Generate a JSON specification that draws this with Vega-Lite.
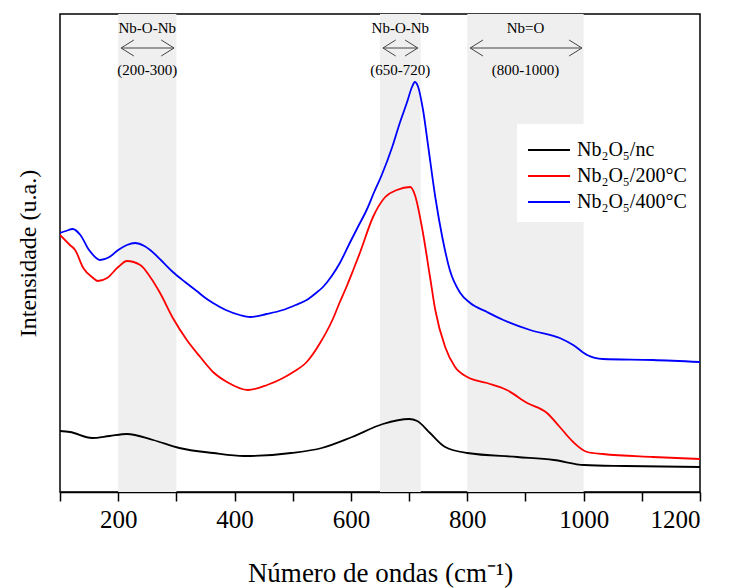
{
  "$schema": "https://vega.github.io/schema/vega-lite/v6.json",
  "width": 640,
  "height": 478,
  "autosize": {"type": "none"},
  "padding": {"left": 60, "top": 14, "right": 29, "bottom": 96},
  "background": "white",
  "config": {
    "font": "Liberation Serif, serif",
    "view": {"stroke": "black", "strokeWidth": 1.5},
    "axis": {"grid": false, "labelFont": "Liberation Serif, serif", "titleFont": "Liberation Serif, serif"},
    "legend": {"labelFont": "Liberation Serif, serif", "titleFont": "Liberation Serif, serif"},
    "text": {"font": "Liberation Serif, serif"}
  },
  "datasets": {
    "bands": [
      {"x0": 200, "x1": 300},
      {"x0": 650, "x1": 720},
      {"x0": 800, "x1": 1000}
    ],
    "notes": [
      {"band": "Nb-O-Nb", "range": "(200-300)", "xc": 250, "a0": 205, "a1": 296},
      {"band": "Nb-O-Nb", "range": "(650-720)", "xc": 685, "a0": 655, "a1": 715},
      {"band": "Nb=O", "range": "(800-1000)", "xc": 900, "a0": 805, "a1": 997}
    ],
    "spectra": [
      {"s": "Nb₂O₅/nc", "x": 100, "y": 61}, {"s": "Nb₂O₅/nc", "x": 117, "y": 60}, {"s": "Nb₂O₅/nc", "x": 155, "y": 54},
      {"s": "Nb₂O₅/nc", "x": 185, "y": 56}, {"s": "Nb₂O₅/nc", "x": 215, "y": 58}, {"s": "Nb₂O₅/nc", "x": 260, "y": 52},
      {"s": "Nb₂O₅/nc", "x": 305, "y": 44}, {"s": "Nb₂O₅/nc", "x": 363, "y": 39}, {"s": "Nb₂O₅/nc", "x": 416, "y": 36},
      {"s": "Nb₂O₅/nc", "x": 497, "y": 39}, {"s": "Nb₂O₅/nc", "x": 550, "y": 44}, {"s": "Nb₂O₅/nc", "x": 602, "y": 55},
      {"s": "Nb₂O₅/nc", "x": 655, "y": 68}, {"s": "Nb₂O₅/nc", "x": 700, "y": 73}, {"s": "Nb₂O₅/nc", "x": 714, "y": 71},
      {"s": "Nb₂O₅/nc", "x": 736, "y": 59}, {"s": "Nb₂O₅/nc", "x": 762, "y": 45}, {"s": "Nb₂O₅/nc", "x": 800, "y": 39},
      {"s": "Nb₂O₅/nc", "x": 886, "y": 35}, {"s": "Nb₂O₅/nc", "x": 949, "y": 32}, {"s": "Nb₂O₅/nc", "x": 1001, "y": 27},
      {"s": "Nb₂O₅/nc", "x": 1071, "y": 26}, {"s": "Nb₂O₅/nc", "x": 1200, "y": 25},

      {"s": "Nb₂O₅/200°C", "x": 100, "y": 257}, {"s": "Nb₂O₅/200°C", "x": 117, "y": 247}, {"s": "Nb₂O₅/200°C", "x": 126, "y": 242},
      {"s": "Nb₂O₅/200°C", "x": 140, "y": 224}, {"s": "Nb₂O₅/200°C", "x": 157, "y": 214}, {"s": "Nb₂O₅/200°C", "x": 165, "y": 211},
      {"s": "Nb₂O₅/200°C", "x": 181, "y": 214}, {"s": "Nb₂O₅/200°C", "x": 200, "y": 225}, {"s": "Nb₂O₅/200°C", "x": 215, "y": 231},
      {"s": "Nb₂O₅/200°C", "x": 238, "y": 227}, {"s": "Nb₂O₅/200°C", "x": 255, "y": 215}, {"s": "Nb₂O₅/200°C", "x": 272, "y": 199},
      {"s": "Nb₂O₅/200°C", "x": 294, "y": 174}, {"s": "Nb₂O₅/200°C", "x": 318, "y": 152}, {"s": "Nb₂O₅/200°C", "x": 341, "y": 135},
      {"s": "Nb₂O₅/200°C", "x": 363, "y": 120}, {"s": "Nb₂O₅/200°C", "x": 387, "y": 110}, {"s": "Nb₂O₅/200°C", "x": 423, "y": 102},
      {"s": "Nb₂O₅/200°C", "x": 456, "y": 107}, {"s": "Nb₂O₅/200°C", "x": 480, "y": 113}, {"s": "Nb₂O₅/200°C", "x": 501, "y": 120},
      {"s": "Nb₂O₅/200°C", "x": 524, "y": 130}, {"s": "Nb₂O₅/200°C", "x": 547, "y": 149}, {"s": "Nb₂O₅/200°C", "x": 569, "y": 173},
      {"s": "Nb₂O₅/200°C", "x": 581, "y": 190}, {"s": "Nb₂O₅/200°C", "x": 593, "y": 206}, {"s": "Nb₂O₅/200°C", "x": 604, "y": 222},
      {"s": "Nb₂O₅/200°C", "x": 616, "y": 240}, {"s": "Nb₂O₅/200°C", "x": 638, "y": 275}, {"s": "Nb₂O₅/200°C", "x": 659, "y": 295},
      {"s": "Nb₂O₅/200°C", "x": 679, "y": 302}, {"s": "Nb₂O₅/200°C", "x": 702, "y": 305}, {"s": "Nb₂O₅/200°C", "x": 710, "y": 297},
      {"s": "Nb₂O₅/200°C", "x": 722, "y": 265}, {"s": "Nb₂O₅/200°C", "x": 736, "y": 215}, {"s": "Nb₂O₅/200°C", "x": 745, "y": 182},
      {"s": "Nb₂O₅/200°C", "x": 762, "y": 145}, {"s": "Nb₂O₅/200°C", "x": 779, "y": 125}, {"s": "Nb₂O₅/200°C", "x": 800, "y": 115},
      {"s": "Nb₂O₅/200°C", "x": 834, "y": 109}, {"s": "Nb₂O₅/200°C", "x": 868, "y": 102}, {"s": "Nb₂O₅/200°C", "x": 903, "y": 89},
      {"s": "Nb₂O₅/200°C", "x": 937, "y": 79}, {"s": "Nb₂O₅/200°C", "x": 959, "y": 65}, {"s": "Nb₂O₅/200°C", "x": 982, "y": 50},
      {"s": "Nb₂O₅/200°C", "x": 1006, "y": 40}, {"s": "Nb₂O₅/200°C", "x": 1033, "y": 38}, {"s": "Nb₂O₅/200°C", "x": 1119, "y": 35},
      {"s": "Nb₂O₅/200°C", "x": 1200, "y": 33},

      {"s": "Nb₂O₅/400°C", "x": 100, "y": 259}, {"s": "Nb₂O₅/400°C", "x": 110, "y": 261}, {"s": "Nb₂O₅/400°C", "x": 122, "y": 263},
      {"s": "Nb₂O₅/400°C", "x": 135, "y": 257}, {"s": "Nb₂O₅/400°C", "x": 150, "y": 242}, {"s": "Nb₂O₅/400°C", "x": 169, "y": 232},
      {"s": "Nb₂O₅/400°C", "x": 185, "y": 235}, {"s": "Nb₂O₅/400°C", "x": 200, "y": 242}, {"s": "Nb₂O₅/400°C", "x": 215, "y": 247},
      {"s": "Nb₂O₅/400°C", "x": 229, "y": 249}, {"s": "Nb₂O₅/400°C", "x": 245, "y": 246}, {"s": "Nb₂O₅/400°C", "x": 255, "y": 242},
      {"s": "Nb₂O₅/400°C", "x": 275, "y": 231}, {"s": "Nb₂O₅/400°C", "x": 294, "y": 220}, {"s": "Nb₂O₅/400°C", "x": 315, "y": 210},
      {"s": "Nb₂O₅/400°C", "x": 335, "y": 201}, {"s": "Nb₂O₅/400°C", "x": 350, "y": 194}, {"s": "Nb₂O₅/400°C", "x": 363, "y": 189},
      {"s": "Nb₂O₅/400°C", "x": 385, "y": 182}, {"s": "Nb₂O₅/400°C", "x": 409, "y": 177}, {"s": "Nb₂O₅/400°C", "x": 427, "y": 175},
      {"s": "Nb₂O₅/400°C", "x": 455, "y": 178}, {"s": "Nb₂O₅/400°C", "x": 483, "y": 182}, {"s": "Nb₂O₅/400°C", "x": 505, "y": 187},
      {"s": "Nb₂O₅/400°C", "x": 524, "y": 192}, {"s": "Nb₂O₅/400°C", "x": 540, "y": 199}, {"s": "Nb₂O₅/400°C", "x": 552, "y": 205},
      {"s": "Nb₂O₅/400°C", "x": 567, "y": 216}, {"s": "Nb₂O₅/400°C", "x": 581, "y": 229}, {"s": "Nb₂O₅/400°C", "x": 598, "y": 249},
      {"s": "Nb₂O₅/400°C", "x": 612, "y": 265}, {"s": "Nb₂O₅/400°C", "x": 627, "y": 282}, {"s": "Nb₂O₅/400°C", "x": 640, "y": 300},
      {"s": "Nb₂O₅/400°C", "x": 653, "y": 317}, {"s": "Nb₂O₅/400°C", "x": 671, "y": 345}, {"s": "Nb₂O₅/400°C", "x": 684, "y": 369},
      {"s": "Nb₂O₅/400°C", "x": 696, "y": 389}, {"s": "Nb₂O₅/400°C", "x": 705, "y": 405}, {"s": "Nb₂O₅/400°C", "x": 710, "y": 410},
      {"s": "Nb₂O₅/400°C", "x": 715, "y": 406}, {"s": "Nb₂O₅/400°C", "x": 724, "y": 382}, {"s": "Nb₂O₅/400°C", "x": 733, "y": 345},
      {"s": "Nb₂O₅/400°C", "x": 745, "y": 295}, {"s": "Nb₂O₅/400°C", "x": 757, "y": 255}, {"s": "Nb₂O₅/400°C", "x": 770, "y": 222},
      {"s": "Nb₂O₅/400°C", "x": 788, "y": 199}, {"s": "Nb₂O₅/400°C", "x": 805, "y": 189}, {"s": "Nb₂O₅/400°C", "x": 834, "y": 180},
      {"s": "Nb₂O₅/400°C", "x": 862, "y": 172}, {"s": "Nb₂O₅/400°C", "x": 908, "y": 162}, {"s": "Nb₂O₅/400°C", "x": 959, "y": 154},
      {"s": "Nb₂O₅/400°C", "x": 982, "y": 147}, {"s": "Nb₂O₅/400°C", "x": 1006, "y": 137}, {"s": "Nb₂O₅/400°C", "x": 1033, "y": 133},
      {"s": "Nb₂O₅/400°C", "x": 1119, "y": 132}, {"s": "Nb₂O₅/400°C", "x": 1200, "y": 130}
    ]
  },
  "layer": [
    {
      "data": {"name": "bands"},
      "mark": {"type": "rect", "color": "#efefef"},
      "encoding": {
        "x": {"field": "x0", "type": "quantitative", "scale": {"domain": [100, 1200], "nice": false, "zero": false}},
        "x2": {"field": "x1"},
        "y": {"datum": 0, "type": "quantitative", "scale": {"domain": [0, 478], "nice": false, "zero": false}},
        "y2": {"datum": 478}
      }
    },
    {
      "data": {"name": "spectra"},
      "mark": {"type": "line", "strokeWidth": 1.8, "clip": true, "interpolate": "monotone"},
      "encoding": {
        "x": {"field": "x", "type": "quantitative",
          "axis": {
            "values": [100, 200, 300, 400, 500, 600, 700, 800, 900, 1000, 1100, 1200],
            "labelExpr": "datum.value % 200 == 0 ? datum.label : ''",
            "format": "d",
            "domainColor": "black", "domainWidth": 1.5,
            "tickColor": "black", "tickWidth": 1.5, "tickSize": 9,
            "labelFont": "Liberation Serif, serif", "labelFontSize": 25, "labelColor": "black", "labelPadding": 6,
            "title": "Número de ondas (cm⁻¹)", "titleFont": "Liberation Serif, serif", "titleFontSize": 27, "titleFontWeight": "normal",
            "titleColor": "black", "titlePadding": 28
          }},
        "y": {"field": "y", "type": "quantitative",
          "axis": {"labels": false, "ticks": false, "domain": false,
            "title": "Intensidade (u.a.)", "titleFont": "Liberation Serif, serif", "titleFontSize": 24, "titleFontWeight": "normal",
            "titleColor": "black", "titlePadding": 20}},
        "color": {"field": "s", "type": "nominal",
          "scale": {"domain": ["Nb₂O₅/nc", "Nb₂O₅/200°C", "Nb₂O₅/400°C"], "range": ["black", "#ff0000", "#0000ff"]},
          "legend": {"title": null, "orient": "none", "legendX": 457, "legendY": 110,
            "fillColor": "white", "padding": 10, "symbolType": "M-1,0L1.8,0", "symbolSize": 900,
            "symbolStrokeWidth": 2, "labelFont": "Liberation Serif, serif", "labelFontSize": 20, "labelColor": "black", "rowPadding": 0,
            "labelOffset": 18, "labelLimit": 300}}
      }
    },
    {
      "data": {"name": "notes"},
      "mark": {"type": "text", "fontSize": 15, "color": "black", "font": "Liberation Serif, serif"},
      "encoding": {
        "x": {"field": "xc", "type": "quantitative"},
        "y": {"datum": 464, "type": "quantitative"},
        "text": {"field": "band"}
      }
    },
    {
      "data": {"name": "notes"},
      "mark": {"type": "text", "fontSize": 15, "color": "black", "font": "Liberation Serif, serif"},
      "encoding": {
        "x": {"field": "xc", "type": "quantitative"},
        "y": {"datum": 422, "type": "quantitative"},
        "text": {"field": "range"}
      }
    },
    {
      "data": {"name": "notes"},
      "mark": {"type": "rule", "color": "#444444", "strokeWidth": 1},
      "encoding": {
        "x": {"field": "a0", "type": "quantitative"},
        "x2": {"field": "a1"},
        "y": {"datum": 444, "type": "quantitative"}
      }
    },
    {
      "data": {"name": "notes"},
      "mark": {"type": "point", "shape": "M1.6,-1L0,0L1.6,1", "filled": false, "size": 256, "color": "#444444", "strokeWidth": 1, "opacity": 1},
      "encoding": {
        "x": {"field": "a0", "type": "quantitative"},
        "y": {"datum": 444, "type": "quantitative"}
      }
    },
    {
      "data": {"name": "notes"},
      "mark": {"type": "point", "shape": "M-1.6,-1L0,0L-1.6,1", "filled": false, "size": 256, "color": "#444444", "strokeWidth": 1, "opacity": 1},
      "encoding": {
        "x": {"field": "a1", "type": "quantitative"},
        "y": {"datum": 444, "type": "quantitative"}
      }
    }
  ]
}
